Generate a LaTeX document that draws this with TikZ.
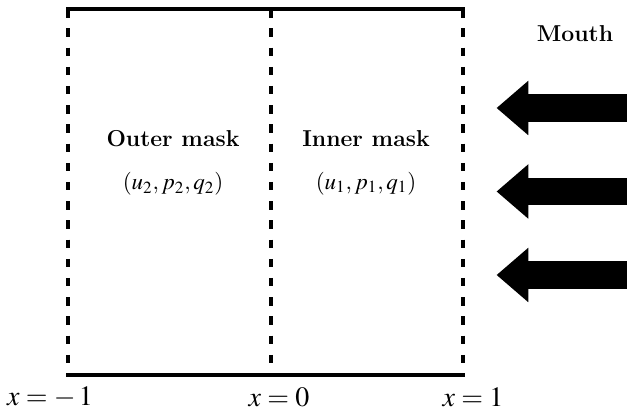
\documentclass[tikz,border=0pt]{standalone}
\usepackage{amsmath}
\usepackage{mathptmx}
\renewcommand{\rmdefault}{lmr}
\usepackage{tikz}
\usetikzlibrary{positioning,arrows.meta}

\begin{document}
\begin{tikzpicture}[x=0.5pt, y=-0.5pt,
	wall/.style={line width=2pt, line cap=rect},
	gap/.style={line width=2pt, dash pattern=on 4.25pt off 5.35pt},
	flow/.style={line width=13.85pt, -{Triangle[length=15.8pt, width=27.25pt, line width=0pt]}},
	lab/.style={font=\fontsize{11.5}{14}\selectfont\bfseries},
	vars/.style={font=\fontsize{11.5}{14}\selectfont},
	xlab/.style={font=\fontsize{14}{17}\selectfont, inner sep=1pt}]
	\useasboundingbox (0,0) rectangle (627,410);
	\coordinate (TL) at (67.5,9.2);
	\coordinate (TM) at (270.5,9.2);
	\coordinate (TR) at (463,9.2);
	\coordinate (BL) at (67.5,375);
	\coordinate (BM) at (270.5,375);
	\coordinate (BR) at (463,375);
	\draw[wall] (TL) -- (TR);
	\draw[wall] (BL) -- (BR);
	\draw[gap] (TL) -- (BL);
	\draw[gap] (TM) -- (BM);
	\draw[gap] (TR) -- (BR);
	\node[lab] (outer) at (173,139) {Outer mask};
	\node[lab] (inner) at (366,139) {Inner mask};
	\node[vars, below=5.5pt of outer] (u2) {$(u_2,p_2,q_2)$};
	\node[vars, below=5.5pt of inner] (u1) {$(u_1,p_1,q_1)$};
	\node[lab] (mouth) at (575,34) {Mouth};
	\coordinate (s1) at (627,108);
	\coordinate (t1) at (496.7,108);
	\coordinate (s2) at (627,191.5);
	\coordinate (t2) at (496.7,191.5);
	\coordinate (s3) at (627,275);
	\coordinate (t3) at (496.7,275);
	\draw[flow] (s1) -- (t1);
	\draw[flow] (s2) -- (t2);
	\draw[flow] (s3) -- (t3);
	\node[xlab] (xa) at (50,397) {$x=-\,1$};
	\node[xlab] (xb) at (279,397) {$x=0$};
	\node[xlab] (xc) at (473,397) {$x=1$};
\end{tikzpicture}
\end{document}
